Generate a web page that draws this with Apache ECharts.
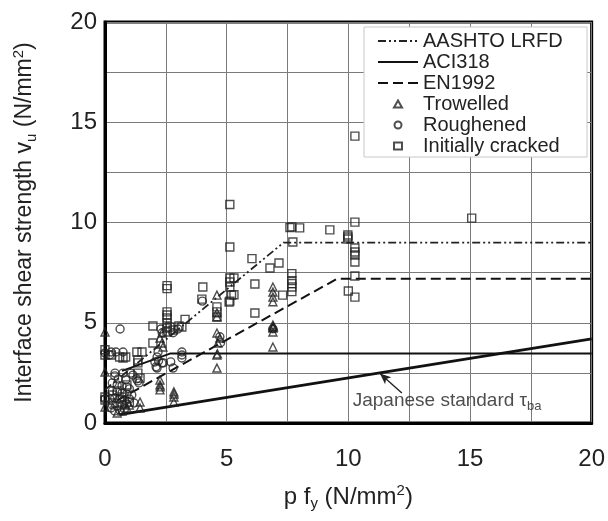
<!DOCTYPE html>
<html>
<head>
<meta charset="utf-8">
<script src="https://cdn.jsdelivr.net/npm/echarts@6/dist/echarts.min.js"></script>
<style>
  html, body { margin: 0; padding: 0; background: #fff; }
  #chart { width: 608px; height: 521px; }
</style>
</head>
<body>
<div id="chart"></div>
<script>
// design lines [p fy, vu]
const aashtoLine = [[0, 1.66], [7.34, 9.0], [20, 9.0]];
const aciLine = [[0.7, 2.6], [2.7, 3.47], [20, 3.47]];
const enLine = [[0.5, 1.13], [9.55, 7.2], [20, 7.2]];
const japanLine = [[0.6, 0.42], [20, 4.2]];

// test results [p fy, vu]
const trowelled = [
  [4.6, 6.38], [6.9, 6.78], [6.9, 6.53], [6.9, 6.28], [6.9, 6.05],
  [6.9, 4.89], [6.9, 4.79], [6.92, 4.8], [6.9, 4.74], [6.9, 4.54], [6.9, 3.79],
  [2.34, 4.49], [2.26, 4.24], [2.34, 3.99], [2.38, 3.79],
  [4.6, 4.49], [4.72, 4.24], [4.64, 3.99], [4.6, 3.39], [4.62, 3.45], [4.6, 2.74],
  [4.6, 5.5], [4.6, 5.3],
  [1.44, 1.05], [1.44, 0.75], [2.26, 2.14], [2.26, 1.9], [2.27, 1.8], [2.26, 1.65],
  [2.83, 1.55], [2.84, 1.45], [2.83, 1.3], [2.83, 1.05],
  [0.5, 0.5], [0.7, 0.6], [0.9, 0.75], [0.4, 1.0], [0.8, 1.0], [1.0, 0.9],
  [0, 0.8], [0, 4.54], [0, 2.54]
];
const roughened = [
  [0.62, 4.69], [2.18, 3.54], [2.14, 3.29], [2.05, 3.04], [2.34, 2.99], [2.14, 2.74],
  [3.16, 3.54], [3.16, 3.39], [3.16, 3.24], [2.8, 2.74], [4.0, 6.08],
  [4.72, 4.3], [4.75, 4.0], [6.9, 4.7],
  [0.25, 3.54], [0.45, 3.54], [0.74, 3.54], [0.2, 3.4],
  [0.41, 2.49], [0.74, 2.49], [1.07, 2.49], [1.15, 2.39], [1.3, 2.2], [1.35, 2.1],
  [2.1, 2.8], [2.4, 3.0], [2.7, 3.05], [2.2, 3.1],
  [2.3, 4.69], [2.35, 4.5], [2.8, 4.5], [3.0, 4.69], [1.4, 2.0],
  [0.3, 2.0], [0.5, 1.9], [0.7, 1.85], [0.9, 1.8], [0.3, 1.6], [0.5, 1.55],
  [0.7, 1.5], [0.9, 1.45], [1.0, 1.7], [0.2, 1.2], [0.4, 1.25], [0.6, 1.2],
  [0.8, 1.15], [1.0, 1.2], [0.3, 0.9], [0.5, 0.85], [0.7, 0.9], [0.9, 0.95],
  [0.4, 0.6], [0.6, 0.65], [0.8, 0.7], [1.1, 1.4], [1.2, 1.0], [0.55, 2.2],
  [0.85, 2.15], [0.4, 2.35], [0.25, 0.75], [0, 3.5], [0, 1.2]
];
const cracked = [
  [5.13, 10.9], [5.13, 8.78], [7.68, 9.78], [7.6, 9.75], [8.0, 9.73], [9.24, 9.63],
  [7.72, 9.03], [6.04, 8.2], [6.78, 7.73], [7.15, 7.98],
  [7.68, 7.45], [7.68, 7.1], [7.68, 6.95], [7.68, 6.78], [7.68, 6.55], [7.3, 6.38],
  [6.16, 6.93], [6.16, 5.49], [5.13, 7.23], [5.3, 7.23], [5.13, 7.03], [5.13, 6.78],
  [5.2, 6.38], [5.3, 6.4], [5.13, 6.08], [5.1, 6.03], [4.02, 6.78], [3.98, 6.18],
  [4.6, 5.79], [4.6, 5.54], [4.6, 5.29],
  [2.55, 6.85], [2.55, 6.7], [2.55, 5.54], [2.55, 5.39], [2.55, 5.24], [2.55, 4.99],
  [2.67, 4.79], [1.97, 4.84], [3.29, 5.17], [3.04, 4.84], [3.16, 4.79],
  [2.55, 4.74], [2.8, 4.64], [2.55, 4.54], [1.97, 3.99],
  [10.27, 10.02], [9.98, 9.38], [9.98, 9.28], [9.98, 9.18],
  [10.27, 8.73], [10.27, 8.53], [10.27, 8.38], [10.27, 8.03], [10.27, 7.33],
  [10.0, 6.58], [10.27, 6.28], [10.27, 14.31], [15.07, 10.22],
  [0.74, 3.24], [1.31, 3.54], [1.52, 3.54], [1.35, 3.14], [1.35, 3.0],
  [1.35, 2.49], [1.44, 2.24], [0.25, 3.39], [0.6, 3.29], [0.85, 3.29],
  [0.9, 1.9], [0.5, 1.6], [0.7, 1.3], [1.0, 1.05], [0.3, 1.4],
  [0, 3.65], [0, 3.39], [0, 1.3], [0, 1.15]
];

// annotation
const japanText = [[10.18, 1.12]];
const japanArrow = [[12.2, 1.5], [11.3, 2.47]];

const lineNames = ['AASHTO LRFD', 'ACI318', 'EN1992'];
const pointNames = ['Trowelled', 'Roughened', 'Initially cracked'];

const FONT = 'Liberation Sans';
const INK = '#222';

const chart = echarts.init(document.getElementById('chart'));

const pointStyle = {
  color: 'rgba(255,255,255,0)',
  borderColor: '#222',
  borderWidth: 1.4
};

const legendText = { fontFamily: FONT, fontSize: 20, lineHeight: 20, color: INK };

const option = {
  animation: false,
  backgroundColor: '#fff',
  textStyle: { fontFamily: FONT },
  grid: {
    left: 105, right: 16, top: 22, bottom: 98,
    show: true, borderColor: '#000', borderWidth: 3
  },
  // legend frame
  graphic: [{
    type: 'rect', z: 3,
    shape: { x: 364, y: 27, width: 223, height: 130 },
    style: { fill: '#fff', stroke: '#c8c8c8', lineWidth: 1 }
  }],
  legend: [
    {
      orient: 'vertical', left: 377, top: 31, padding: 0,
      itemWidth: 40, itemHeight: 10, itemGap: 1,
      itemStyle: { opacity: 0 },
      textStyle: legendText,
      data: lineNames
    },
    {
      orient: 'vertical', left: 393, top: 94, padding: 0,
      itemWidth: 8, itemHeight: 7, itemGap: 1,
      textStyle: Object.assign({ padding: [0, 0, 0, 16] }, legendText),
      data: pointNames
    }
  ],
  xAxis: {
    type: 'value', min: 0, max: 20, interval: 2.5,
    name: 'p f{s|y} (N/mm{p|2})',
    nameLocation: 'middle', nameGap: 60,
    nameTextStyle: {
      fontFamily: FONT, fontSize: 24, color: INK, lineHeight: 28,
      rich: {
        s: { fontSize: 15, lineHeight: 14, verticalAlign: 'bottom', color: INK },
        p: { fontSize: 15, lineHeight: 14, verticalAlign: 'top', color: INK }
      }
    },
    axisLine: { lineStyle: { color: '#000', width: 3 } },
    axisTick: { show: false },
    axisLabel: {
      fontFamily: FONT, fontSize: 24, color: INK, margin: 24,
      formatter: v => (v % 5 === 0 ? String(v) : '')
    },
    splitLine: { lineStyle: { color: '#7a7a7a', width: 1 } }
  },
  yAxis: {
    type: 'value', min: 0, max: 20, interval: 2.5,
    name: 'Interface shear strength v{s|u} (N/mm{p|2})',
    nameLocation: 'middle', nameGap: 66,
    nameTextStyle: {
      fontFamily: FONT, fontSize: 23, color: INK, lineHeight: 28,
      rich: {
        s: { fontSize: 15, lineHeight: 14, verticalAlign: 'bottom', color: INK },
        p: { fontSize: 15, lineHeight: 14, verticalAlign: 'top', color: INK }
      }
    },
    axisLine: { lineStyle: { color: '#000', width: 3 } },
    axisTick: { show: false },
    axisLabel: {
      fontFamily: FONT, fontSize: 24, color: INK, margin: 8,
      formatter: v => (v % 5 === 0 ? String(v) : '')
    },
    splitLine: { lineStyle: { color: '#7a7a7a', width: 1 } }
  },
  series: [
    {
      name: lineNames[0], type: 'line', data: aashtoLine, symbol: 'none',
      lineStyle: { color: '#222', width: 1.8, type: [8, 3, 2, 3, 2, 3] },
      itemStyle: { color: '#222' }, z: 3
    },
    {
      name: lineNames[1], type: 'line', data: aciLine, symbol: 'none',
      lineStyle: { color: '#111', width: 2, type: 'solid' },
      itemStyle: { color: '#111' }, z: 3
    },
    {
      name: lineNames[2], type: 'line', data: enLine, symbol: 'none',
      lineStyle: { color: '#111', width: 2, type: [10, 5] },
      itemStyle: { color: '#111' }, z: 3
    },
    {
      name: 'Japanese standard', type: 'line', data: japanLine, symbol: 'none',
      lineStyle: { color: '#111', width: 2.8 },
      z: 3,
      markLine: {
        silent: true,
        symbol: ['none', 'arrow'], symbolSize: [7, 11],
        label: { show: false },
        lineStyle: { color: '#222', width: 1.4, type: 'solid' },
        data: [[{ coord: japanArrow[0] }, { coord: japanArrow[1] }]]
      }
    },
    {
      name: pointNames[0], type: 'scatter', data: trowelled,
      symbol: 'triangle', symbolSize: 8, itemStyle: pointStyle, z: 4
    },
    {
      name: pointNames[1], type: 'scatter', data: roughened,
      symbol: 'circle', symbolSize: 8, itemStyle: pointStyle, z: 4
    },
    {
      name: pointNames[2], type: 'scatter', data: cracked,
      symbol: 'rect', symbolSize: 8, itemStyle: pointStyle, z: 4
    },
    {
      name: 'note', type: 'scatter', data: japanText, symbolSize: 0,
      silent: true, z: 5,
      label: {
        show: true, position: 'right', distance: 0,
        formatter: 'Japanese standard τ{s|ba}',
        fontFamily: FONT, fontSize: 19, color: INK, lineHeight: 24,
        rich: { s: { fontSize: 13, lineHeight: 13, verticalAlign: 'bottom', color: INK } }
      }
    }
  ]
};

chart.setOption(option);
</script>
</body>
</html>
